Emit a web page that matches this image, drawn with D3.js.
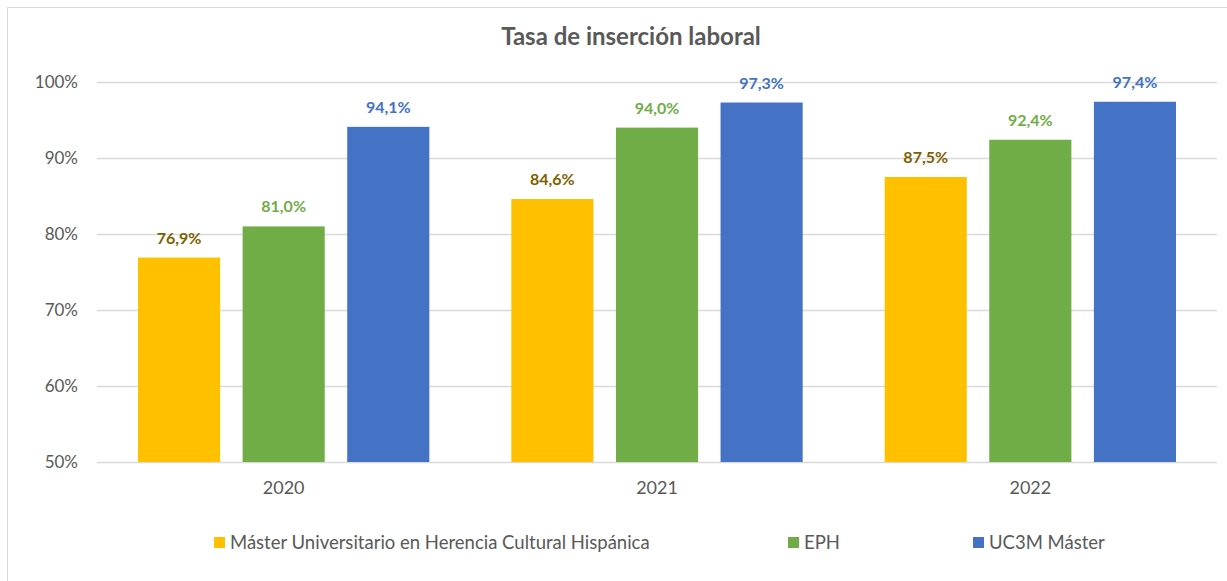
<!DOCTYPE html>
<html>
<head>
<meta charset="utf-8">
<script src="https://cdn.jsdelivr.net/npm/d3@7"></script>
<style>
  body { margin: 0; background: #fff; }
  svg text { font-family: Lato, "Open Sans", sans-serif; }
</style>
</head>
<body>
<div id="chart"></div>
<script>
// Data
var years = ["2020", "2021", "2022"];
var seriesNames = ["Máster Universitario en Herencia Cultural Hispánica", "EPH", "UC3M Máster"];
var masterValues = [76.9, 84.6, 87.5];
var ephValues = [81.0, 94.0, 92.4];
var uc3mValues = [94.1, 97.3, 97.4];
var yTicks = [50, 60, 70, 80, 90, 100];

var barColors = ["#FFC000", "#70AD47", "#4472C4"];
var labelColors = ["#7F6000", "#70AD47", "#4472C4"];

var series = [masterValues, ephValues, uc3mValues];

var W = 1227, H = 581;
var margin = {top: 82, right: 10, bottom: 119, left: 97},
    width = 1217 - margin.left,
    height = 462 - margin.top;

var svg = d3.select("#chart").append("svg")
    .attr("width", W)
    .attr("height", H);

// chart border
svg.append("rect")
    .attr("x", 7.5).attr("y", 7.5)
    .attr("width", W - 4).attr("height", H)
    .style("fill", "none")
    .style("stroke", "#d9d9d9")
    .style("stroke-width", 1);

// title
svg.append("text")
    .attr("x", 631)
    .attr("y", 45)
    .style("text-anchor", "middle")
    .style("font-size", "24px")
    .style("font-weight", "bold")
    .style("fill", "#595959")
    .text("Tasa de inserción laboral");

var g = svg.append("g")
    .attr("transform", "translate(" + margin.left + "," + margin.top + ")");

var x0 = d3.scaleBand().domain(years).range([0, width]);
var x1 = d3.scaleBand().domain(d3.range(series.length))
    .range([41, x0.bandwidth() - 41])
    .paddingInner(0.215);
var y = d3.scaleLinear().domain([50, 100]).range([height, 0]);

// gridlines
g.selectAll(".grid")
    .data(yTicks)
    .enter().append("line")
    .attr("x1", 0).attr("x2", width)
    .attr("y1", function(d) { return Math.round(y(d)) + 0.5; })
    .attr("y2", function(d) { return Math.round(y(d)) + 0.5; })
    .style("stroke", "#d9d9d9")
    .style("stroke-width", 1.3);

// y axis labels
var yAxis = d3.axisLeft(y).tickValues(yTicks).tickSize(0).tickPadding(19)
    .tickFormat(function(d) { return d + "%"; });
var yg = g.append("g").call(yAxis);
yg.select(".domain").remove();
yg.selectAll("text").style("font-size", "17px").style("fill", "#595959").style("font-family", null);

// x axis labels
var xAxis = d3.axisBottom(x0).tickSize(0).tickPadding(19);
var xg = g.append("g").attr("transform", "translate(0," + height + ")").call(xAxis);
xg.select(".domain").remove();
xg.selectAll("text").style("font-size", "18px").style("fill", "#595959").style("font-family", null);

// bars
years.forEach(function(yr, i) {
    var grp = g.append("g").attr("transform", "translate(" + x0(yr) + ",0)");
    series.forEach(function(vals, s) {
        grp.append("rect")
            .attr("x", x1(s))
            .attr("y", y(vals[i]))
            .attr("width", x1.bandwidth())
            .attr("height", height - y(vals[i]))
            .style("fill", barColors[s]);
        grp.append("text")
            .attr("x", x1(s) + x1.bandwidth() / 2)
            .attr("y", y(vals[i]) - 14)
            .style("text-anchor", "middle")
            .style("font-size", "16px")
            .style("font-weight", "bold")
            .style("fill", labelColors[s])
            .text(vals[i].toFixed(1).replace(".", ",") + "%");
    });
});

// legend
var legendX = [214, 788, 973];
var legend = svg.selectAll(".legend")
    .data(seriesNames)
    .enter().append("g")
    .attr("transform", function(d, i) { return "translate(" + legendX[i] + ",537)"; });
legend.append("rect")
    .attr("width", 11).attr("height", 11)
    .style("fill", function(d, i) { return barColors[i]; });
legend.append("text")
    .attr("x", 16).attr("y", 12)
    .style("font-size", "18.5px")
    .style("fill", "#595959")
    .text(function(d) { return d; });
</script>
</body>
</html>
